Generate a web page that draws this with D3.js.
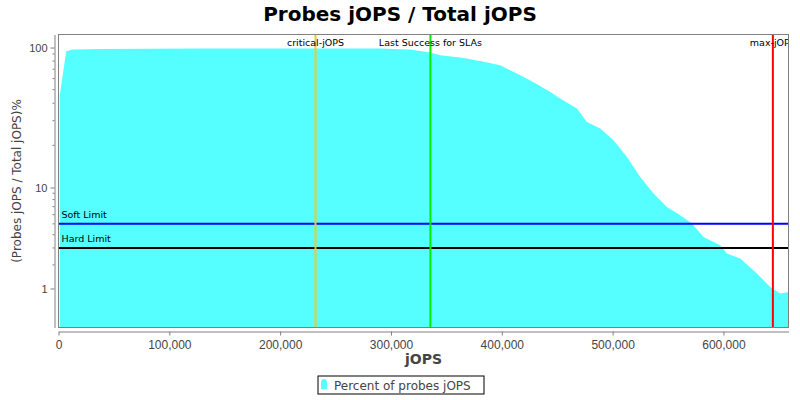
<!DOCTYPE html>
<html>
<head>
    <title>Probes jOPS / Total jOPS</title>
    <script src="https://d3js.org/d3.v7.min.js"></script>
    <style>
        body { margin: 0; background: #ffffff; }
        svg { font-family: "DejaVu Sans", sans-serif; }
        .axis path, .axis line { stroke: #808080; }
        .axis text { fill: #444444; }
    </style>
</head>
<body>
<div id="chart"></div>
<script>
    // jOPS positions of the probe samples and their percentage
    const jops = [1100, 7000, 13000, 37600, 127900, 218100, 290300, 308300, 317300, 335400,
        344400, 362500, 380500, 398500, 413600, 428300, 443700, 452700, 467800, 476800,
        488800, 500800, 512900, 524900, 536900, 549000, 561000, 571500, 582000, 597000,
        603100, 615100, 630200, 642200, 651200, 658700];
    const pct = [45.6, 94.1, 96.8, 97.7, 98.4, 98.5, 98.4, 97.2, 96.8, 92.1,
        88.1, 84.8, 80.2, 74.7, 65.2, 56.8, 48.2, 43.2, 36.7, 29.4,
        26.4, 21.8, 16.5, 11.9, 8.96, 6.96, 5.93, 5.04, 3.82, 3.19,
        2.64, 2.35, 1.59, 1.055, 0.833, 0.884];

    const xTicks = [0, 100000, 200000, 300000, 400000, 500000, 600000];
    const yMajor = [1, 10, 100];
    const yMinor = [2, 3, 4, 5, 6, 7, 8, 9, 20, 30, 40, 50, 60, 70, 80, 90];

    // markers
    const vMarkers = [
        { label: "critical-jOPS", value: 231900, color: "#f0c828" },
        { label: "Last Success for SLAs", value: 335600, color: "#00ee00" },
        { label: "max-jOPS", value: 644600, color: "#ff0000" }
    ];
    const hMarkers = [
        { label: "Soft Limit", value: 5, color: "#0000ff" },
        { label: "Hard Limit", value: 3, color: "#000000" }
    ];

    const width = 800, height = 400;
    const plot = { left: 58.5, right: 788.5, top: 34.5, bottom: 327.5 };

    // JFreeChart style adjusted log10 (values below 10 get squeezed)
    function adjLog(v) {
        if (v < 10) v += (10 - v) / 10;
        return Math.log10(v);
    }

    const x = d3.scaleLinear().domain([0, 658700]).range([plot.left, plot.right]);
    const y = d3.scaleLinear().domain([0, 2.093]).range([plot.bottom, plot.top]);
    const yv = v => y(adjLog(v));

    const svg = d3.select("#chart").append("svg")
        .attr("width", width)
        .attr("height", height);

    svg.append("defs").append("clipPath").attr("id", "clip")
        .append("rect")
        .attr("x", plot.left).attr("y", plot.top)
        .attr("width", plot.right - plot.left)
        .attr("height", plot.bottom - plot.top);

    // title
    svg.append("text")
        .attr("x", 400).attr("y", 21)
        .attr("text-anchor", "middle")
        .style("font-size", "20px")
        .style("font-weight", "bold")
        .text("Probes jOPS / Total jOPS");

    // area
    const data = jops.map((d, i) => ({ x: d, y: pct[i] }));
    const area = d3.area()
        .x(d => x(d.x))
        .y0(plot.bottom)
        .y1(d => yv(d.y));

    const g = svg.append("g").attr("clip-path", "url(#clip)");
    g.append("path")
        .datum(data)
        .attr("d", area)
        .attr("fill", "#55ffff");

    // horizontal limit lines
    hMarkers.forEach(m => {
        g.append("line")
            .attr("x1", plot.left).attr("x2", plot.right)
            .attr("y1", yv(m.value)).attr("y2", yv(m.value))
            .attr("stroke", m.color)
            .attr("stroke-width", 2);
        g.append("text")
            .attr("x", plot.left + 3)
            .attr("y", yv(m.value) - 6)
            .style("font-size", "9.5px")
            .text(m.label);
    });

    // vertical markers
    vMarkers.forEach(m => {
        g.append("line")
            .attr("x1", x(m.value)).attr("x2", x(m.value))
            .attr("y1", plot.top).attr("y2", plot.bottom)
            .attr("stroke", m.color)
            .attr("stroke-width", 2);
        g.append("text")
            .attr("x", x(m.value))
            .attr("y", plot.top + 11)
            .attr("text-anchor", "middle")
            .style("font-size", "9.5px")
            .text(m.label);
    });

    // plot outline
    svg.append("rect")
        .attr("x", plot.left).attr("y", plot.top)
        .attr("width", plot.right - plot.left)
        .attr("height", plot.bottom - plot.top)
        .attr("fill", "none")
        .attr("stroke", "#808080");

    // x axis
    svg.append("g")
        .attr("class", "axis")
        .attr("transform", `translate(0,${plot.bottom + 4})`)
        .call(d3.axisBottom(x).tickValues(xTicks).tickSizeInner(4).tickSizeOuter(0)
            .tickFormat(d3.format(",")))
        .call(a => a.selectAll("text").style("font-size", "12px").attr("dy", "0.85em"));

    svg.append("text")
        .attr("x", (plot.left + plot.right) / 2)
        .attr("y", 364)
        .attr("text-anchor", "middle")
        .style("font-size", "14px")
        .style("font-weight", "bold")
        .style("fill", "#444444")
        .text("jOPS");

    // y axis (major + minor ticks)
    const yAxisG = svg.append("g")
        .attr("class", "axis")
        .attr("transform", `translate(${plot.left - 4},0)`);
    yAxisG.call(d3.axisLeft(y).tickValues(yMajor.map(adjLog)).tickSizeInner(4).tickSizeOuter(0)
            .tickFormat((d, i) => yMajor[i]))
        .call(a => a.selectAll("text").style("font-size", "11px"));
    yAxisG.selectAll(".minor")
        .data(yMinor)
        .enter()
        .append("line")
        .attr("class", "minor")
        .attr("x1", -2).attr("x2", 0)
        .attr("y1", d => yv(d)).attr("y2", d => yv(d));

    svg.append("text")
        .attr("transform", `translate(21,${(plot.top + plot.bottom) / 2}) rotate(-90)`)
        .attr("text-anchor", "middle")
        .style("font-size", "12px")
        .style("fill", "#444444")
        .text("(Probes jOPS / Total jOPS)%");

    // legend
    const legend = svg.append("g").attr("transform", "translate(318,376)");
    legend.append("rect")
        .attr("x", 0).attr("y", 0)
        .attr("width", 166).attr("height", 18)
        .attr("fill", "white")
        .attr("stroke", "#000000");
    legend.append("path")
        .attr("d", "M3,13 L3,7 Q3,3 6,3 Q9,3 9,7 L9,13 Z")
        .attr("fill", "#55ffff");
    legend.append("text")
        .attr("x", 16).attr("y", 13.5)
        .style("font-size", "12px")
        .style("fill", "#444444")
        .text("Percent of probes jOPS");
</script>
</body>
</html>
